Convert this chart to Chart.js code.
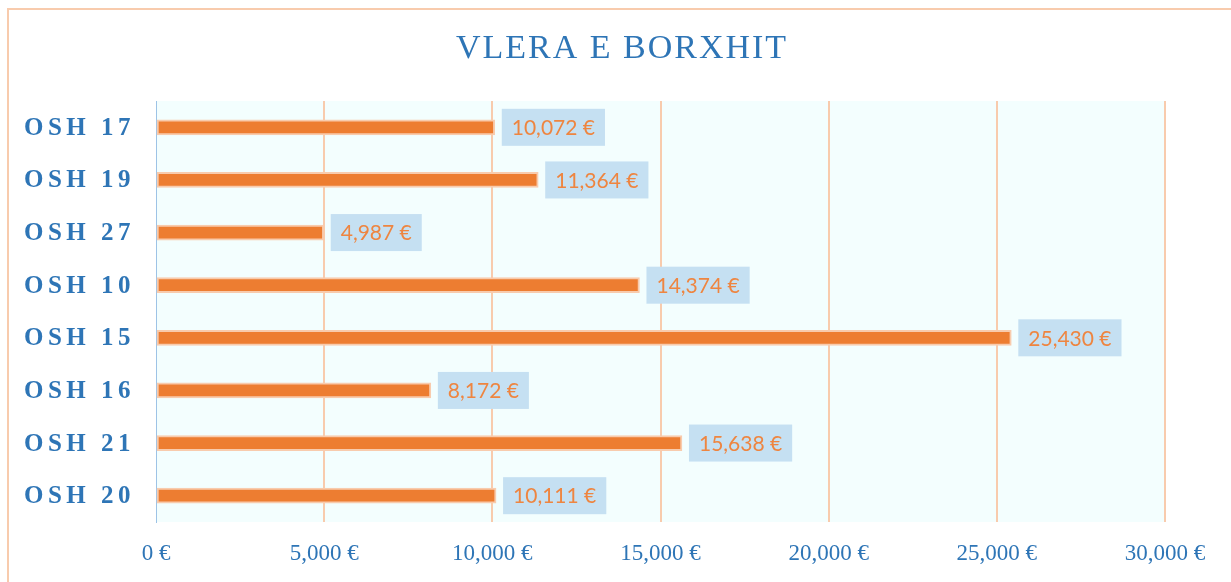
<!DOCTYPE html>
<html>
<head>
<meta charset="utf-8">
<script src="https://cdn.jsdelivr.net/npm/chart.js@4"></script>
<style>
  html, body { margin: 0; padding: 0; background: #ffffff; }
  #wrap { position: relative; width: 1231px; height: 582px; }
</style>
</head>
<body>
<div id="wrap"><canvas id="barChart"></canvas></div>
<script>
var titel = 'VLERA E BORXHIT';
var shkollat = ['OSH 17', 'OSH 19', 'OSH 27', 'OSH 10', 'OSH 15', 'OSH 16', 'OSH 21', 'OSH 20'];
var borxhi = [10072, 11364, 4987, 14374, 25430, 8172, 15638, 10111];
var xMin = 0;
var xMax = 30000;
var xStep = 5000;

var blu = '#2e75b6';
var portokalli = '#ed7d31';
var portokalliLehte = '#f8cbad';

function euro(v) {
    return Number(v).toLocaleString('en-US') + ' €';
}

// sfondi, korniza dhe titulli
var sfondPlugin = {
    id: 'sfond',
    beforeDraw: function(chart) {
        var ctx = chart.ctx;
        var a = chart.chartArea;
        ctx.save();
        ctx.fillStyle = '#f3fefe';
        ctx.fillRect(a.left, a.top, a.right - a.left, a.bottom - a.top);
        ctx.strokeStyle = portokalliLehte;
        ctx.lineWidth = 2;
        ctx.strokeRect(8, 9, 1230, 600);
        ctx.fillStyle = blu;
        ctx.font = '34px "Liberation Serif", serif';
        ctx.letterSpacing = '2px';
        ctx.textAlign = 'center';
        ctx.textBaseline = 'middle';
        ctx.fillText(titel, 622, 49);
        ctx.restore();
    },
    afterDraw: function(chart) {
        // emrat e shkollave me hapesire mes shkronjave
        var ctx = chart.ctx;
        var y = chart.scales.y;
        ctx.save();
        ctx.fillStyle = blu;
        ctx.font = 'bold 25px "Liberation Serif", serif';
        ctx.letterSpacing = '4.5px';
        ctx.textAlign = 'right';
        ctx.textBaseline = 'middle';
        shkollat.forEach(function(emri, i) {
            ctx.fillText(emri, 135, y.getPixelForValue(i) + 1);
        });
        ctx.restore();
    }
};

// etiketat e vlerave ne kuti blu
var etiketaPlugin = {
    id: 'etiketa',
    afterDatasetsDraw: function(chart) {
        var ctx = chart.ctx;
        var meta = chart.getDatasetMeta(0);
        ctx.save();
        ctx.font = '21px Lato, sans-serif';
        ctx.textBaseline = 'middle';
        meta.data.forEach(function(bar, i) {
            var tekst = euro(borxhi[i]);
            var w = ctx.measureText(tekst).width + 20;
            var x0 = bar.x + 7;
            ctx.fillStyle = '#c5e0f2';
            ctx.fillRect(x0, bar.y - 18.5, w, 37);
            ctx.fillStyle = '#ee8540';
            ctx.fillText(tekst, x0 + 10, bar.y + 1);
        });
        ctx.restore();
    }
};

var ctx = document.getElementById('barChart').getContext('2d');

var grafiku = new Chart(ctx, {
    type: 'bar',
    data: {
        labels: shkollat,
        datasets: [{
            label: titel,
            data: borxhi,
            backgroundColor: portokalli,
            borderColor: portokalliLehte,
            borderWidth: 2,
            borderSkipped: false,
            barThickness: 15
        }]
    },
    options: {
        indexAxis: 'y',
        responsive: true,
        maintainAspectRatio: false,
        animation: false,
        layout: {
            padding: { top: 101, right: 66, left: 0, bottom: 0 }
        },
        plugins: {
            legend: { display: false },
            title: { display: false },
            tooltip: { enabled: false }
        },
        scales: {
            x: {
                min: xMin,
                max: xMax,
                afterFit: function(scale) { scale.height = 60; },
                ticks: {
                    stepSize: xStep,
                    padding: 18,
                    color: blu,
                    font: { family: '"Liberation Serif", serif', size: 23 },
                    callback: function(value) { return euro(value); }
                },
                grid: {
                    drawTicks: false,
                    lineWidth: 2,
                    color: function(c) {
                        return c.tick && c.tick.value === 0 ? 'rgba(0,0,0,0)' : portokalliLehte;
                    }
                },
                border: { display: false }
            },
            y: {
                afterFit: function(scale) { scale.width = 156; },
                ticks: { display: false },
                grid: { display: false, drawTicks: false },
                border: { display: true, color: '#9dc3e6', width: 1 }
            }
        }
    },
    plugins: [sfondPlugin, etiketaPlugin]
});
</script>
</body>
</html>
